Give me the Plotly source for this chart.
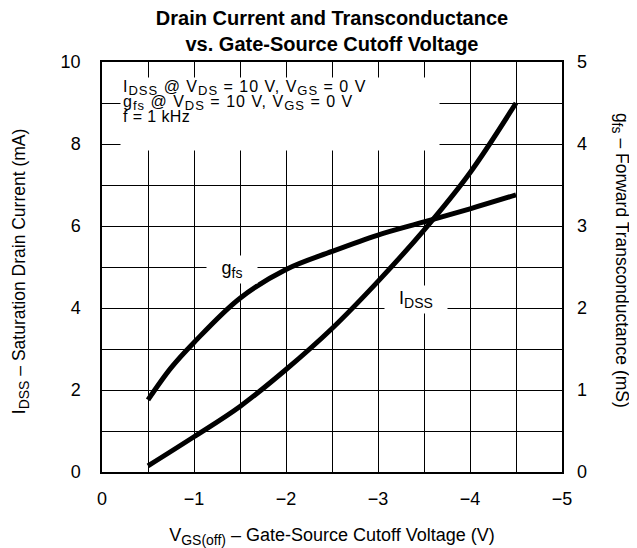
import plotly.graph_objects as go

# Data
vgs_idss = [-0.5, -1.0, -1.5, -2.0, -2.5, -3.0, -3.5, -4.0, -4.5]
idss_ma = [0.15, 0.86, 1.6, 2.5, 3.5, 4.65, 5.9, 7.3, 9.0]

vgs_gfs = [-0.5, -0.75, -1.0, -1.5, -2.0, -2.5, -3.0, -3.5, -4.0, -4.5]
gfs_ms = [0.88, 1.27, 1.58, 2.12, 2.47, 2.69, 2.89, 3.05, 3.21, 3.38]

FONT = "Arial, Liberation Sans, Helvetica, sans-serif"
W, H = 629, 540
ML, MR, MT, MB = 94, 75, 54, 76
PW, PH = W - ML - MR, H - MT - MB  # plot area size (used as grid-tick length)


def sub(t, size):
    return "<sub><span style='font-size:%dpx'>%s</span></sub>" % (size, t)


fig = go.Figure()
fig.add_trace(go.Scatter(x=vgs_idss, y=idss_ma, mode="lines", name="IDSS",
                         line=dict(color="black", width=5, shape="spline"),
                         yaxis="y", showlegend=False))
fig.add_trace(go.Scatter(x=vgs_gfs, y=gfs_ms, mode="lines", name="gfs",
                         line=dict(color="black", width=5, shape="spline"),
                         yaxis="y2", showlegend=False))

tickfont = dict(family=FONT, size=18, color="black")
axis_common = dict(showline=True, linecolor="black", linewidth=1.5, mirror=True,
                   zeroline=False, showgrid=False, automargin=False, tickfont=tickfont,
                   ticks="inside", tickcolor="black", tickwidth=1.2)

fig.update_layout(
    width=W, height=H,
    margin=dict(l=ML, r=MR, t=MT, b=MB, autoexpand=False),
    paper_bgcolor="white", plot_bgcolor="white",
    font=dict(family=FONT, color="black"),
    title=dict(text="<b>Drain Current and Transconductance<br>vs. Gate-Source Cutoff Voltage</b>",
               x=0.5, xref="paper", xanchor="center",
               y=1, yref="paper", yanchor="bottom", pad=dict(b=37),
               font=dict(family=FONT, size=20, color="black")),
    xaxis=dict(range=[0, -5], tick0=0, dtick=1, ticklen=PH,
               minor=dict(dtick=0.5, ticks="inside", ticklen=PH, tickcolor="black", tickwidth=1.2),
               ticklabelstandoff=10,
               title=dict(text="V" + sub("GS(off)", 14) + " – Gate-Source Cutoff Voltage (V)",
                          font=dict(family=FONT, size=18, color="black"), standoff=21),
               **axis_common),
    yaxis=dict(range=[0, 10], tick0=0, dtick=2, ticklen=PW,
               minor=dict(dtick=1, ticks="inside", ticklen=PW, tickcolor="black", tickwidth=1.2),
               ticklabelstandoff=16, **axis_common),
    yaxis2=dict(range=[0, 5], tick0=0, dtick=1, overlaying="y", side="right", showgrid=False,
                ticklabelstandoff=14, showline=False, zeroline=False, ticks="", automargin=False,
                tickfont=tickfont),
)

# White background behind the test-condition text (interrupts the grid)
fig.add_annotation(text=" ", xref="x", yref="y", x=-0.2, y=9.63, xanchor="left", yanchor="top",
                   width=318, height=72, bgcolor="white", borderpad=0, showarrow=False)

cond_lines = [
    "I" + sub("DSS", 13) + " @ V" + sub("DS", 13) + " = 10 V, V" + sub("GS", 13) + " = 0 V",
    "g" + sub("fs", 13) + " @ V" + sub("DS", 13) + " = 10 V, V" + sub("GS", 13) + " = 0 V",
    "f = 1 kHz",
]
cond_y = [9.36, 8.99, 8.66]
cond_ls = [1.0, 1.0, 0.4]
for t, yy, ls in zip(cond_lines, cond_y, cond_ls):
    t = "<span style='letter-spacing:%.1fpx'>%s</span>" % (ls, t)
    fig.add_annotation(text=t, xref="x", yref="y", x=-0.205, y=yy,
                       xanchor="left", yanchor="middle", showarrow=False,
                       font=dict(family=FONT, size=16, color="black"))

fig.add_annotation(text="g" + sub("fs", 14), xref="x", yref="y", x=-1.41, y=4.93,
                   width=50, height=27, bgcolor="white", borderpad=0,
                   showarrow=False, font=dict(family=FONT, size=18, color="black"))
fig.add_annotation(text="I" + sub("DSS", 14), xref="x", yref="y", x=-3.41, y=4.2,
                   width=62, height=27, bgcolor="white", borderpad=0,
                   showarrow=False, font=dict(family=FONT, size=18, color="black"))

fig.add_annotation(text="I" + sub("DSS", 14) + " – Saturation Drain Current (mA)", textangle=-90,
                   xref="paper", yref="paper", x=-0.178, y=0.49, xanchor="center", yanchor="middle",
                   showarrow=False, font=dict(family=FONT, size=17.5, color="black"))
fig.add_annotation(text="g" + sub("fs", 14) + " – Forward Transconductance (mS)", textangle=90,
                   xref="paper", yref="paper", x=1.126, y=0.515, xanchor="center", yanchor="middle",
                   showarrow=False, font=dict(family=FONT, size=17.5, color="black"))

fig.write_html("out.html")
